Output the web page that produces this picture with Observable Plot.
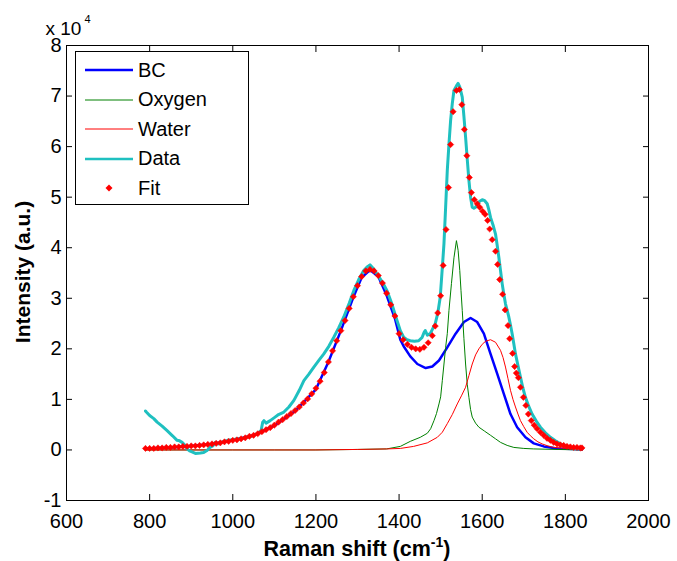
<!DOCTYPE html>
<html><head><meta charset="utf-8">
<script src="https://cdn.jsdelivr.net/npm/d3@7"></script>
<script src="https://cdn.jsdelivr.net/npm/@observablehq/plot@0.6"></script>
<style>
body{margin:0;background:#fff;}
#wrap{position:relative;width:677px;height:561px;font-family:"Liberation Sans",Arial,sans-serif;}
#legend{position:absolute;left:75px;top:51px;width:174px;height:154px;border:1px solid #000;background:#fff;box-sizing:border-box;}
.row{position:absolute;left:0;height:30px;display:flex;align-items:center;font-size:20px;color:#000;}
.row svg{display:block;margin-left:9px;margin-right:5px;}
</style></head><body><div id="wrap"><div id="legend"></div></div>
<script>
const xTicks=[600,800,1000,1200,1400,1600,1800,2000];
const yTicks=[-1,0,1,2,3,4,5,6,7,8];
const seriesNames=["BC","Oxygen","Water","Data","Fit"];

// BC component (units of 1e4)
const bcX=[790,850,900,950,1000,1050,1100,1150,1200,1230,1260,1290,1310,1330,1350,1370,1390,1403,1411,1427,1444,1464,1480,1496,1516,1536,1556,1572,1588,1604,1620,1636,1652,1668,1684,1704,1724,1748,1780,1820,1840];
const bcY=[0.03,0.05,0.08,0.12,0.19,0.29,0.48,0.77,1.20,1.74,2.36,3.02,3.41,3.56,3.43,3.06,2.60,2.18,2.05,1.85,1.70,1.62,1.65,1.77,2.03,2.30,2.53,2.61,2.53,2.30,1.90,1.51,1.11,0.71,0.45,0.25,0.13,0.07,0.03,0.02,0.01];

// Oxygen component
const oxX=[790,900,1000,1100,1200,1300,1370,1403,1427,1451,1468,1476,1484,1490,1496,1500,1504,1508,1512,1516,1520,1526,1532,1538,1542,1546,1549,1552,1556,1560,1564,1568,1572,1576,1584,1592,1606,1620,1632,1644,1660,1676,1700,1724,1780,1840];
const oxY=[0,0,0,0,0,0.01,0.02,0.07,0.17,0.25,0.33,0.42,0.58,0.72,0.91,1.05,1.37,1.70,2.03,2.30,2.76,3.29,3.80,4.14,3.95,3.55,3.15,2.76,2.20,1.70,1.30,1.04,0.80,0.65,0.53,0.45,0.37,0.29,0.22,0.15,0.09,0.05,0.03,0.02,0.01,0];

// Water component
const waX=[790,1000,1200,1300,1370,1403,1435,1468,1492,1504,1516,1528,1540,1550,1560,1568,1576,1584,1592,1600,1608,1620,1632,1644,1650,1656,1662,1668,1674,1680,1686,1692,1700,1708,1716,1724,1734,1744,1758,1772,1788,1804,1820,1840];
const waY=[0,0,0,0.01,0.02,0.03,0.07,0.14,0.25,0.35,0.52,0.70,0.91,1.07,1.24,1.47,1.70,1.88,2.00,2.09,2.15,2.18,2.13,1.97,1.83,1.64,1.41,1.18,1.00,0.85,0.71,0.58,0.46,0.35,0.28,0.22,0.16,0.12,0.08,0.05,0.04,0.03,0.02,0.01];

// Measured data
const dataX=[790,792,800,810,818,830,842,855,866,872,878,884,890,896,902,910,922,930,938,945,952,958,965,975,987,1000,1010,1019,1030,1040,1051,1060,1068,1072,1075,1080,1090,1100,1110,1123,1135,1147,1160,1171,1183,1195,1207,1219,1231,1243,1255,1267,1280,1291,1303,1315,1323,1330,1337,1347,1359,1371,1383,1395,1403,1411,1419,1427,1437,1447,1455,1460,1463,1468,1475,1481,1487,1493,1499,1504,1508,1512,1516,1520,1524,1528,1532,1538,1542,1546,1552,1556,1560,1564,1568,1572,1576,1580,1584,1588,1594,1600,1606,1612,1616,1620,1626,1632,1636,1640,1644,1648,1652,1656,1660,1664,1668,1672,1676,1680,1686,1692,1698,1704,1712,1720,1730,1740,1752,1764,1776,1788,1800,1812,1826,1840];
const dataY=[0.77,0.75,0.68,0.62,0.55,0.47,0.38,0.28,0.19,0.18,0.15,0.10,0.02,-0.02,-0.04,-0.07,-0.06,-0.05,-0.01,0.05,0.08,0.15,0.12,0.16,0.19,0.20,0.22,0.22,0.24,0.26,0.29,0.33,0.38,0.55,0.58,0.53,0.58,0.64,0.70,0.75,0.85,0.98,1.18,1.37,1.50,1.64,1.77,1.90,2.05,2.23,2.42,2.63,2.90,3.15,3.37,3.55,3.62,3.66,3.60,3.48,3.33,3.15,2.88,2.56,2.36,2.23,2.18,2.16,2.15,2.16,2.22,2.32,2.36,2.27,2.30,2.40,2.50,2.70,3.02,3.60,4.08,4.80,5.53,6.05,6.52,6.85,7.11,7.20,7.25,7.18,6.98,6.60,6.19,5.75,5.33,5.00,4.80,4.78,4.80,4.87,4.92,4.95,4.93,4.87,4.75,4.60,4.45,4.27,4.05,3.81,3.55,3.29,3.08,2.89,2.76,2.63,2.47,2.30,2.10,1.90,1.67,1.44,1.22,1.04,0.86,0.71,0.57,0.45,0.34,0.25,0.18,0.12,0.08,0.05,0.03,0.02];

// Fit
const fitX=[790,800,810,820,830,840,850,860,870,880,890,900,910,920,930,940,950,960,970,980,990,1000,1010,1020,1030,1040,1050,1060,1070,1080,1090,1100,1110,1120,1130,1140,1150,1160,1170,1180,1190,1200,1210,1220,1230,1240,1250,1260,1270,1280,1290,1300,1310,1320,1330,1340,1350,1360,1370,1380,1390,1400,1410,1420,1430,1440,1450,1460,1470,1480,1487,1493,1500,1506,1513,1519,1524,1530,1538,1545,1551,1557,1563,1569,1574,1581,1588,1594,1601,1607,1613,1618,1624,1632,1637,1642,1649,1655,1662,1666,1673,1678,1682,1687,1692,1699,1705,1711,1718,1725,1732,1740,1748,1756,1764,1772,1780,1788,1796,1804,1812,1820,1828,1836,1840];
const fitY=[0.03,0.03,0.03,0.04,0.04,0.05,0.05,0.06,0.06,0.07,0.07,0.08,0.08,0.09,0.10,0.11,0.12,0.13,0.14,0.16,0.17,0.19,0.20,0.22,0.24,0.27,0.29,0.32,0.36,0.40,0.44,0.49,0.55,0.60,0.66,0.72,0.78,0.85,0.93,1.01,1.11,1.22,1.36,1.53,1.74,1.96,2.16,2.36,2.56,2.80,3.03,3.25,3.43,3.54,3.57,3.54,3.45,3.30,3.10,2.87,2.65,2.30,2.18,2.09,2.03,2.00,1.99,2.03,2.12,2.26,2.45,2.71,3.05,3.65,4.36,5.19,6.04,6.69,7.11,7.13,6.83,6.34,5.82,5.39,5.09,4.95,4.87,4.80,4.72,4.66,4.54,4.37,4.16,3.93,3.67,3.37,3.08,2.77,2.46,2.20,1.91,1.65,1.52,1.43,1.24,1.04,0.88,0.71,0.58,0.49,0.42,0.35,0.29,0.23,0.19,0.15,0.12,0.10,0.09,0.07,0.06,0.05,0.05,0.04,0.04];

const colors={BC:"#0000ff",Oxygen:"#008000",Water:"#ff0000",Data:"#1fc0c0",Fit:"#ff0000"};
const zip=(xs,ys)=>xs.map((x,i)=>({x,y:ys[i]}));
const bc=zip(bcX,bcY), ox=zip(oxX,oxY), wa=zip(waX,waY), dat=zip(dataX,dataY), fit=zip(fitX,fitY);

const font='"Liberation Sans",Arial,sans-serif';
const plot=Plot.plot({
  width:677,height:561,marginLeft:66,marginRight:29,marginTop:45,marginBottom:61,
  x:{domain:[600,2000]},
  y:{domain:[-1,8]},
  style:{fontFamily:font,fontSize:"20px",color:"#000",background:"#fff",overflow:"visible"},
  marks:[
    Plot.line(bc,{x:"x",y:"y",stroke:colors.BC,strokeWidth:2.5}),
    Plot.line(ox,{x:"x",y:"y",stroke:colors.Oxygen,strokeWidth:1}),
    Plot.line(wa,{x:"x",y:"y",stroke:colors.Water,strokeWidth:1}),
    Plot.line(dat,{x:"x",y:"y",stroke:colors.Data,strokeWidth:3}),
    Plot.dot(fit,{x:"x",y:"y",symbol:"diamond2",r:2.8,fill:colors.Fit,stroke:colors.Fit,strokeWidth:0.5}),
    Plot.frame({stroke:"#000",strokeWidth:1}),
    Plot.axisX({anchor:"bottom",ticks:xTicks,tickSize:0,tickPadding:13,tickFormat:d=>String(d),label:null,fontSize:20}),
    Plot.axisX({anchor:"bottom",ticks:xTicks,tickSize:-6,tickFormat:()=>"",label:null}),
    Plot.axisX({anchor:"top",ticks:xTicks,tickSize:-6,tickFormat:()=>"",label:null}),
    Plot.axisY({anchor:"left",ticks:yTicks,tickSize:0,tickPadding:5,tickFormat:d=>String(d),label:null,fontSize:20}),
    Plot.axisY({anchor:"left",ticks:yTicks,tickSize:-6,tickFormat:()=>"",label:null}),
    Plot.axisY({anchor:"right",ticks:yTicks,tickSize:-6,tickFormat:()=>"",label:null})
  ]
});
const svg=d3.select(plot);
// x-axis title
const xt=svg.append("text").attr("x",357).attr("y",556).attr("text-anchor","middle")
  .style("font-family",font).style("font-size","21.5px").style("font-weight","bold").attr("fill","#000");
xt.append("tspan").text("Raman shift (cm");
xt.append("tspan").attr("dy",-9).style("font-size","14px").text("-1");
xt.append("tspan").attr("dy",9).text(")");
// y-axis title
svg.append("text").attr("transform","translate(30,272) rotate(-90)").attr("text-anchor","middle")
  .style("font-family",font).style("font-size","21px").style("font-weight","bold").attr("fill","#000")
  .text("Intensity (a.u.)");
// exponent
const ex=svg.append("text").attr("x",68).attr("y",35)
  .style("font-family",font).style("font-size","19px").attr("fill","#000");
ex.append("tspan").text("x 10");
ex.append("tspan").attr("dx",3).attr("dy",-12).style("font-size","11px").text("4");

document.getElementById("wrap").prepend(plot);

// legend
const leg=document.getElementById("legend");
const centers=[18,47.5,77,106.5,136];
seriesNames.forEach((name,i)=>{
  const row=document.createElement("div");
  row.className="row";
  row.style.top=(centers[i]-15)+"px";
  let sw;
  if(name==="Fit"){
    sw=`<svg width="48" height="10"><path d="M24,1.5 L27.5,5 L24,8.5 L20.5,5Z" fill="${colors.Fit}"/></svg>`;
  }else{
    const w=(name==="BC"||name==="Data")?2.5:1;
    sw=`<svg width="48" height="10"><line x1="0" x2="48" y1="5" y2="5" stroke="${colors[name]}" stroke-width="${w}"/></svg>`;
  }
  row.innerHTML=sw+`<span>${name}</span>`;
  leg.appendChild(row);
});
</script></body></html>
